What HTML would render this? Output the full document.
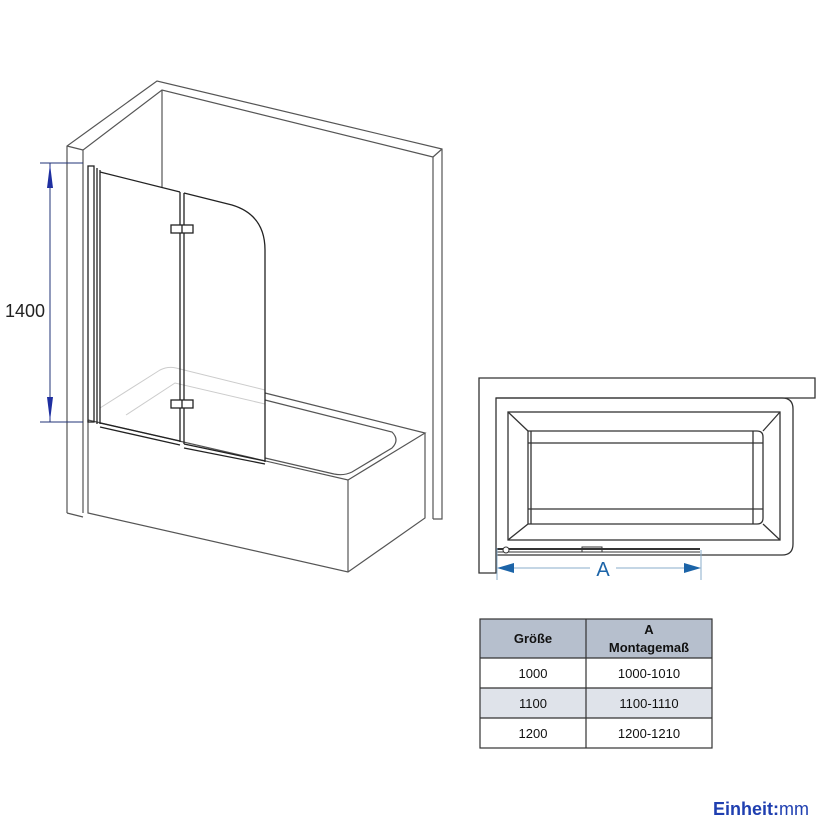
<!DOCTYPE html>
<html><head><meta charset="utf-8"><style>
html,body{margin:0;padding:0;background:#fff;}
svg{display:block;}
</style></head><body>
<svg width="840" height="840" viewBox="0 0 840 840" xmlns="http://www.w3.org/2000/svg" font-family="Liberation Sans, sans-serif">
<!-- Left drawing: walls -->
<g fill="none" stroke="#555" stroke-width="1.2">
<polyline points="67,513 67,146 157,81 442,149 442,519 433,519"/>
<polyline points="83,513 83,150 162,90 433,157 433,519"/>
<line x1="67" y1="146" x2="83" y2="150"/>
<line x1="433" y1="157" x2="442" y2="149"/>
<line x1="67" y1="513" x2="83" y2="517"/>
<line x1="162" y1="90" x2="162" y2="188"/>
<!-- tub -->
<polyline points="88,420 88,513 348,572 425,518 425,433"/>
<polyline points="88,420 348,480 425,433 265,393"/>
<line x1="348" y1="480" x2="348" y2="572"/>
<path d="M265,400 L392,432 Q400,440 392,448 L352,472 Q344,476 334,474 L265,458"/>
</g>
<g fill="none" stroke="#ccc" stroke-width="1">
<path d="M100,408 L160,370 Q168,366 176,368 L265,390"/>
<path d="M126,415 L175,383 L265,404"/>
</g>
<!-- glass -->
<g fill="none" stroke="#222" stroke-width="1.3">
<rect x="88" y="166" width="6" height="256"/>
<line x1="97" y1="168" x2="97" y2="424"/>
<line x1="100" y1="170" x2="100" y2="424"/>
<line x1="100" y1="172" x2="180" y2="192"/>
<line x1="100" y1="423" x2="180" y2="441"/>
<line x1="100" y1="427" x2="180" y2="445"/>
<line x1="180" y1="192" x2="180" y2="442"/>
<line x1="184" y1="193" x2="184" y2="444"/>
<path d="M184,193 L232,205 Q265,215 265,250 L265,462"/>
<line x1="184" y1="444" x2="265" y2="461"/>
<line x1="184" y1="448" x2="265" y2="464"/>
<rect x="171" y="225" width="22" height="8" fill="#fff"/>
<line x1="182" y1="225" x2="182" y2="233"/>
<rect x="171" y="400" width="22" height="8" fill="#fff"/>
<line x1="182" y1="400" x2="182" y2="408"/>
</g>
<!-- dimension 1400 -->
<g stroke="#223377" stroke-width="1" fill="#1f2fa0">
<line x1="40" y1="163" x2="83" y2="163"/>
<line x1="40" y1="422" x2="83" y2="422"/>
<line x1="50" y1="163" x2="50" y2="422"/>
<polygon points="50,164 47,188 53,188" stroke="none"/>
<polygon points="50,421 47,397 53,397" stroke="none"/>
</g>
<text x="5" y="317" font-size="18" fill="#222">1400</text>
<!-- Right plan view -->
<g fill="none" stroke="#333" stroke-width="1.3">
<polygon points="479,378 815,378 815,398 496,398 496,573 479,573"/>
<path d="M496,398 L782,398 Q793,398 793,409 L793,544 Q793,555 782,555 L496,555"/>
<rect x="508" y="412" width="272" height="128"/>
<path d="M528,431 L757,431 Q763,431 763,437 L763,518 Q763,524 757,524 L528,524 Z"/>
<line x1="528" y1="443" x2="763" y2="443"/>
<line x1="528" y1="509" x2="763" y2="509"/>
<line x1="531" y1="431" x2="531" y2="524"/>
<line x1="753" y1="431" x2="753" y2="524"/>
<line x1="508" y1="412" x2="528" y2="431"/>
<line x1="508" y1="540" x2="528" y2="524"/>
<line x1="780" y1="412" x2="763" y2="431"/>
<line x1="780" y1="540" x2="763" y2="524"/>
</g>
<g stroke="#333" fill="none">
<line x1="497" y1="549" x2="700" y2="549" stroke-width="2"/>
<line x1="497" y1="552" x2="700" y2="552" stroke-width="1"/>
<circle cx="506" cy="550" r="3" fill="#fff" stroke-width="1"/>
<rect x="582" y="547" width="20" height="5" stroke-width="1"/>
</g>
<g stroke="#8aaecb" stroke-width="1">
<line x1="497" y1="548" x2="497" y2="580"/>
<line x1="701" y1="550" x2="701" y2="580"/>
<line x1="512" y1="568" x2="590" y2="568"/>
<line x1="616" y1="568" x2="686" y2="568"/>
</g>
<polygon points="497,568 514,563 514,573" fill="#1c64a8"/>
<polygon points="701,568 684,563 684,573" fill="#1c64a8"/>
<text x="603" y="576" font-size="20" fill="#1c64a8" text-anchor="middle">A</text>
<!-- table -->
<rect x="480" y="619" width="232" height="39" fill="#b6bfcd"/>
<rect x="480" y="688" width="232" height="30" fill="#dfe3ea"/>
<g stroke="#333" stroke-width="1.2" fill="none">
<rect x="480" y="619" width="232" height="129"/>
<line x1="480" y1="658" x2="712" y2="658"/>
<line x1="480" y1="688" x2="712" y2="688"/>
<line x1="480" y1="718" x2="712" y2="718"/>
<line x1="586" y1="619" x2="586" y2="748"/>
</g>
<g font-size="13" fill="#111" text-anchor="middle">
<text x="533" y="643" font-weight="bold">Größe</text>
<text x="649" y="634" font-weight="bold">A</text>
<text x="649" y="652" font-weight="bold">Montagemaß</text>
<text x="533" y="678">1000</text>
<text x="649" y="678">1000-1010</text>
<text x="533" y="708">1100</text>
<text x="649" y="708">1100-1110</text>
<text x="533" y="738">1200</text>
<text x="649" y="738">1200-1210</text>
</g>
<text x="713" y="815" font-size="18" fill="#1f3fb0"><tspan font-weight="bold">Einheit:</tspan>mm</text>
</svg>
</body></html>
